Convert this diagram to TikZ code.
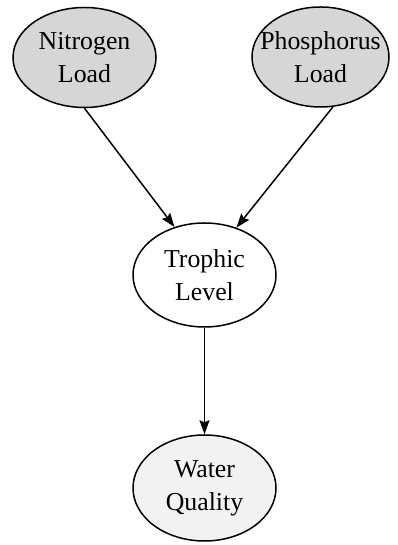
\documentclass[tikz,border=0pt]{standalone}
\usepackage{fontspec}
\setmainfont{Liberation Serif}
\usetikzlibrary{shapes.geometric,arrows.meta}

\begin{document}
\begin{tikzpicture}[x=1pt,y=1pt,
  every node/.style = {ellipse, draw, line width=1.5pt, align=center,
    inner sep=-20pt, font=\fontsize{25.8}{33}\selectfont},
  loadnode/.style = {fill=black!16},
  trophnode/.style = {fill=white},
  waternode/.style = {fill=black!5},
  link/.style = {line width=1.5pt, -{Stealth[length=14pt,width=10pt,inset=2pt]}}]
  \useasboundingbox (0,0) rectangle (397,545);
  % inputs
  \node [loadnode, minimum width=143pt, minimum height=100pt] (nitrogen) at (84.5,487.5) {Nitrogen\\Load};
  \node [loadnode, minimum width=137pt, minimum height=100pt] (phosphorus) at (320.5,488) {Phosphorus\\Load};
  % state
  \node [trophnode, minimum width=143pt, minimum height=104pt] (trophic) at (204.5,270) {Trophic\\Level};
  % outcome
  \node [waternode, minimum width=143pt, minimum height=106pt] (water) at (204.5,57) {Water\\Quality};
  \draw [link] (nitrogen.south) -- (trophic.122);
  \draw [link] (phosphorus.-76) -- (trophic.56);
  \draw [link] (trophic.south) -- (water.north);
\end{tikzpicture}
\end{document}
